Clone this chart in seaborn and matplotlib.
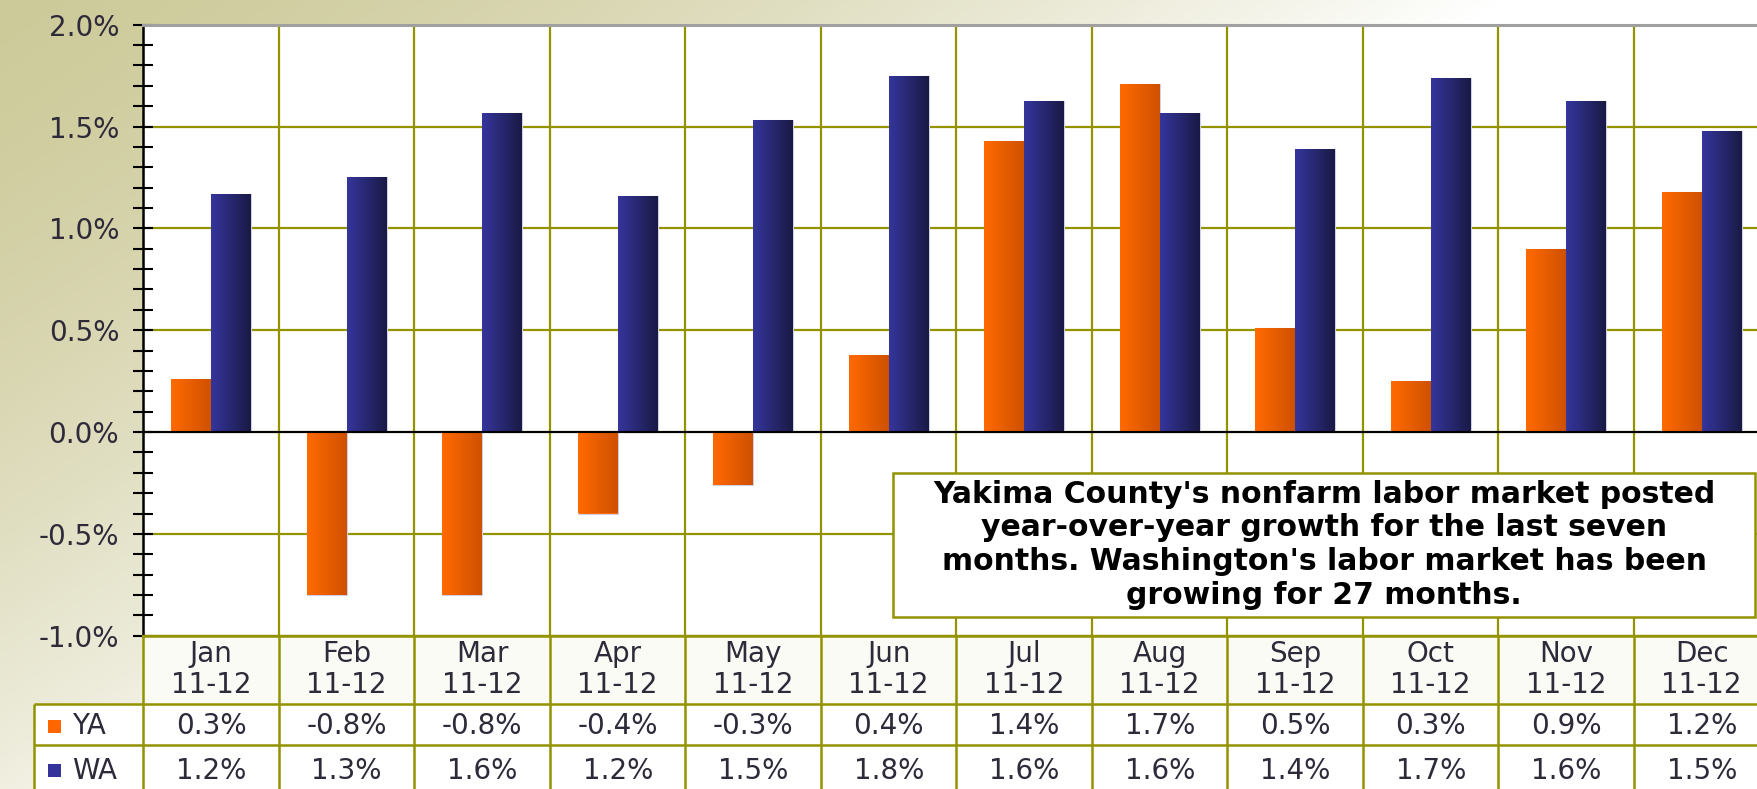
import numpy as np
import pandas as pd
import matplotlib
matplotlib.use("Agg")
import matplotlib.pyplot as plt
from matplotlib.colors import LinearSegmentedColormap
from matplotlib.patches import Rectangle
import seaborn as sns

# ---------------- data ----------------
months = ["Jan", "Feb", "Mar", "Apr", "May", "Jun", "Jul", "Aug", "Sep", "Oct", "Nov", "Dec"]
period = "11-12"
ya_values = [0.26, -0.80, -0.80, -0.40, -0.26, 0.38, 1.43, 1.71, 0.51, 0.25, 0.90, 1.18]
wa_values = [1.17, 1.25, 1.565, 1.16, 1.53, 1.75, 1.625, 1.565, 1.39, 1.74, 1.625, 1.48]
ya_labels = ["0.3%", "-0.8%", "-0.8%", "-0.4%", "-0.3%", "0.4%", "1.4%", "1.7%", "0.5%", "0.3%", "0.9%", "1.2%"]
wa_labels = ["1.2%", "1.3%", "1.6%", "1.2%", "1.5%", "1.8%", "1.6%", "1.6%", "1.4%", "1.7%", "1.6%", "1.5%"]
series = ["YA", "WA"]
note = ("Yakima County's nonfarm labor market posted\n"
        "year-over-year growth for the last seven\n"
        "months. Washington's labor market has been\n"
        "growing for 27 months.")

df = pd.DataFrame({
    "month": months * 2,
    "series": ["YA"] * 12 + ["WA"] * 12,
    "value": ya_values + wa_values,
})

# ---------------- style ----------------
sns.set_style("white")
plt.rcParams["font.family"] = ["DejaVu Sans"]
TXT = "#2e2a3a"
OLIVE = "#939300"
FS = 20
base_colors = {"YA": "#ff6600", "WA": "#333399"}
grad_colors = {"YA": ("#ff6a00", "#cf5100"), "WA": ("#35359c", "#1a1a46")}

W, H = 1758, 789
fig = plt.figure(figsize=(W / 100, H / 100), dpi=100)

# background gradient
bg = fig.add_axes([0, 0, 1, 1], zorder=-10)
yy, xx = np.mgrid[0:H, 0:W]
t = np.clip(xx / 1500 + yy / 1000, 0, 1) ** 1.5
c0 = np.array([205, 202, 154]) / 255
img = c0[None, None, :] + t[..., None] * (1 - c0[None, None, :])
bg.imshow(img, aspect="auto", extent=[0, 1, 0, 1])
bg.axis("off")

# ---------------- main axes ----------------
left_px, top_px, bot_px, col_px = 143.5, 24.7, 635.7, 135.5
right_px = left_px + 12 * col_px
ax = fig.add_axes([left_px / W, 1 - bot_px / H, (right_px - left_px) / W, (bot_px - top_px) / H])
ax.set_facecolor("white")

sns.barplot(data=df, x="month", y="value", hue="series", hue_order=series,
            palette=base_colors, width=0.59, order=months, ax=ax,
            legend=False, saturation=1, edgecolor="#d0d0e6", linewidth=0.8, zorder=3)

# gradient fill of bars
gvec = np.linspace(0, 1, 64).reshape(1, -1)
for name, cont in zip(series, ax.containers):
    cmap = LinearSegmentedColormap.from_list(name, list(grad_colors[name]))
    for p in cont.patches:
        x0, y0, w, h = p.get_x(), p.get_y(), p.get_width(), p.get_height()
        im = ax.imshow(gvec, extent=[x0, x0 + w, min(y0, y0 + h), max(y0, y0 + h)],
                       aspect="auto", cmap=cmap, zorder=3.5, interpolation="bilinear")
        im.set_clip_path(p)

ax.set_xlim(-0.5, 11.5)
ax.set_ylim(-1.0, 2.0)
ax.set_aspect("auto")
ax.set_xlabel("")
ax.set_ylabel("")

yt = np.arange(-1.0, 2.01, 0.5)
ax.set_yticks(yt)
ax.set_yticklabels([f"{v:.1f}%" for v in yt])
ax.set_yticks(np.arange(-1.0, 2.001, 0.1), minor=True)
ax.set_xticks(np.arange(-0.5, 12, 1), minor=True)
ax.tick_params(axis="x", which="both", length=0, labelbottom=False, bottom=False)
ax.tick_params(axis="y", which="both", left=True, direction="inout", length=15, width=1.5,
               color="black", labelsize=FS, labelcolor=TXT, pad=10)

ax.grid(False)
ax.grid(True, which="major", axis="y", color=OLIVE, lw=1.6, zorder=1)
ax.grid(True, which="minor", axis="x", color=OLIVE, lw=1.6, zorder=1)
ax.set_axisbelow(True)
ax.axhline(0, color="black", lw=1.5, zorder=5)

ax.spines["left"].set_color("black")
ax.spines["left"].set_linewidth(1.8)
ax.spines["top"].set_color("#a0a0a0")
ax.spines["top"].set_linewidth(2.2)
ax.spines["bottom"].set_color(OLIVE)
ax.spines["bottom"].set_linewidth(1.6)
ax.spines["right"].set_visible(False)

# ---------------- data table ----------------
tab_h = 153
tab = fig.add_axes([left_px / W, 1 - (bot_px + tab_h) / H, (right_px - left_px) / W, tab_h / H], zorder=2)
tab.set_xlim(-0.5, 11.5)
tab.set_ylim(tab_h, 0)
tab.axis("off")

hdr_h, row1 = 68, 109.5
leg_x = -0.5 - (left_px - 33.6) / col_px
tab.add_patch(Rectangle((-0.5, 0), 12, hdr_h, facecolor="#fbfbf6", edgecolor="none", zorder=0))
tab.add_patch(Rectangle((leg_x, hdr_h), 12.5 - leg_x, tab_h - hdr_h + 10, facecolor="white",
                        edgecolor="none", zorder=0, clip_on=False))
lk = dict(color=OLIVE, lw=1.8, clip_on=False, zorder=2, solid_capstyle="butt")
tab.plot([-0.5, 11.5], [0, 0], **lk)
tab.plot([leg_x, 11.5], [hdr_h, hdr_h], **lk)
tab.plot([leg_x, 11.5], [row1, row1], **lk)
tab.plot([leg_x, leg_x], [hdr_h, tab_h + 5], **lk)
for k in range(12):
    tab.plot([k - 0.5, k - 0.5], [0, tab_h + 5], **lk)

ya_y, wa_y = 90.5, 135
for i, m in enumerate(months):
    tab.text(i, 34, f"{m}\n{period}", ha="center", va="center", fontsize=FS,
             color=TXT, linespacing=1.12)
    tab.text(i, ya_y, ya_labels[i], ha="center", va="center", fontsize=FS, color=TXT)
    tab.text(i, wa_y, wa_labels[i], ha="center", va="center", fontsize=FS, color=TXT)

sq_w = 13 / col_px
sq_x = -0.5 - (left_px - 48) / col_px
txt_x = -0.5 - (left_px - 72) / col_px
for name, yc in zip(series, [ya_y, wa_y]):
    tab.add_patch(Rectangle((sq_x, yc - 6.5), sq_w, 13, facecolor=base_colors[name],
                            edgecolor="none", clip_on=False, zorder=3))
    tab.text(txt_x, yc, name, ha="left", va="center", fontsize=FS, color=TXT, clip_on=False)

# ---------------- annotation box ----------------
bx0, bx1, by0, by1 = 893.5, 1755, 473, 616.6
box = Rectangle((bx0 / W, 1 - by1 / H), (bx1 - bx0) / W, (by1 - by0) / H,
                transform=fig.transFigure, facecolor="white", edgecolor=OLIVE, lw=1.8, zorder=10)
fig.add_artist(box)
fig.text((bx0 + bx1) / 2 / W, 1 - (by0 + by1) / 2 / H, note, ha="center", va="center",
         fontsize=21.5, fontweight="bold", color="black", linespacing=1.2, zorder=11)

fig.savefig("out.png", dpi=100)
